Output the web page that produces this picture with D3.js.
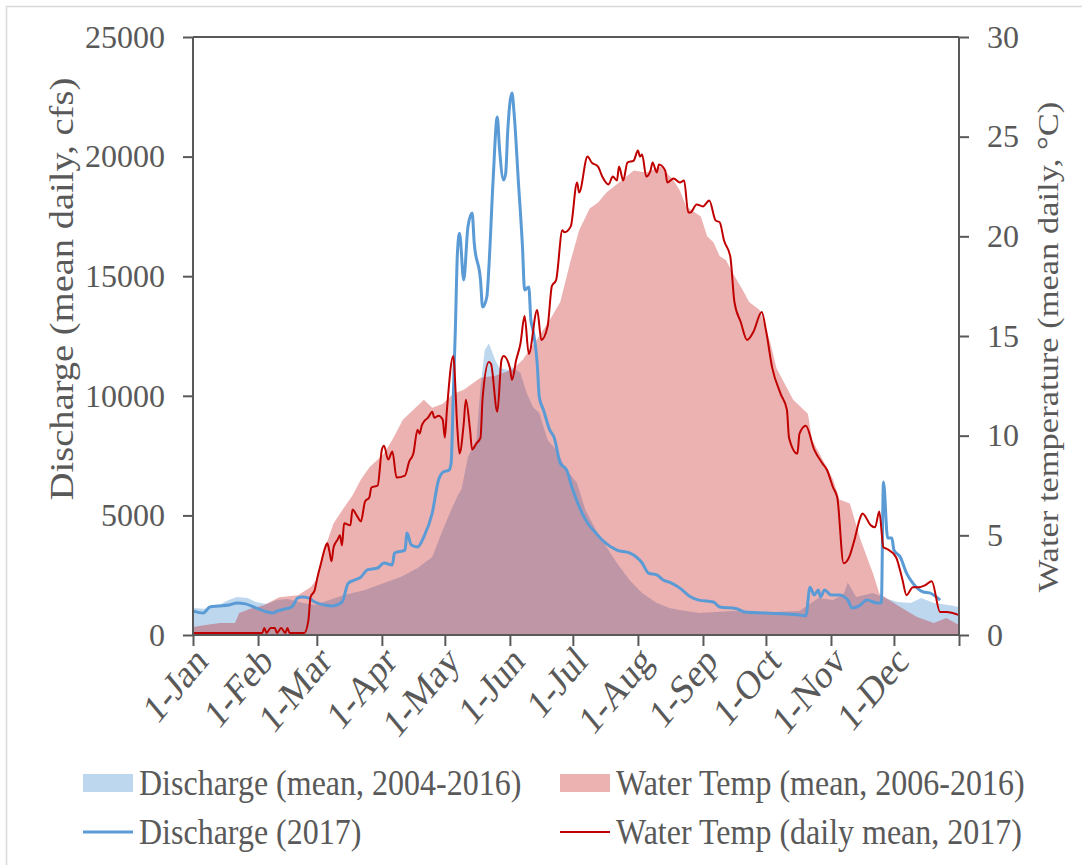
<!DOCTYPE html>
<html><head><meta charset="utf-8">
<script src="https://cdn.jsdelivr.net/npm/d3@7"></script>
<style>
html,body{margin:0;padding:0;background:#fff;}
svg text{font-family:"Liberation Serif","Times New Roman",serif;fill:#595959;}
</style></head>
<body>
<svg id="chart" width="1082" height="865"></svg>
<script>
// ---- data (day of year, value) ----
const monthTickDays = [0,31,59,90,120,151,181,212,243,273,304,334,365];
const monthLabels = ["1-Jan","1-Feb","1-Mar","1-Apr","1-May","1-Jun","1-Jul","1-Aug","1-Sep","1-Oct","1-Nov","1-Dec"];
const leftTicks = [0,5000,10000,15000,20000,25000];
const rightTicks = [0,5,10,15,20,25,30];

const dischargeMeanDays = [0,5,10,17,21,26,30,35,40,45,52,58,72,82,91,99,107,114,119,123,126,128,131,135,137,139,141,144,146,150,152,156,159,162,165,169,173,178,183,187,192,197,202,208,214,221,227,232,241,257,273,289,298,305,310,312,316,324,331,336,342,347,353,360,365];
const dischargeMeanValues = [1130,1100,1150,1460,1590,1550,1380,1300,1460,1500,1350,1250,1670,1880,2170,2420,2800,3260,4390,5230,5800,6100,7440,8150,10370,11900,12200,11500,11160,11080,11200,10950,10120,9530,9280,8150,7730,6900,6350,5230,4390,3680,3010,2300,1760,1340,1130,1050,920,1000,950,1000,1550,1460,1700,2200,1590,1760,1500,1380,1340,1550,1340,1250,1170];

const tempMeanDays = [0,6,13,20,22,27,34,41,50,56,59,63,67,72,76,80,84,91,95,100,105,110,114,119,124,129,133,137,144,152,157,165,170,175,180,184,189,193,197,203,210,216,223,229,232,235,242,245,248,251,254,257,262,265,270,275,278,286,293,295,302,305,308,313,318,324,327,331,337,345,353,359,365];
const tempMeanValues = [0.4,0.5,0.6,0.6,1.1,1.3,1.5,1.9,2.0,2.4,2.8,4.4,5.6,6.4,7.0,7.8,8.4,9.1,9.8,10.8,11.3,11.8,11.4,11.6,12.1,12.3,12.6,12.9,13.0,13.3,13.8,15.0,15.8,16.7,18.8,20.3,21.4,21.7,22.2,22.7,23.3,23.2,23.5,22.8,22.3,21.5,21.0,20.0,19.7,19.0,18.8,18.2,17.3,16.7,16.3,14.7,13.4,11.8,11.1,9.8,8.4,7.8,6.8,6.6,4.8,3.1,2.1,1.8,1.4,0.9,0.6,0.85,0.5];

const discharge2017Days = [0,5,8,12,17,21,25,30,34,38,40,44,47,50,52,55,58,63,66,71,74,77,80,83,88,91,95,96,101,102,104,107,110,114,117,119,122,123,124,125,126,127,129,131,133,134,137,138,140,141,143,145,146,148,149,150,152,153,155,157,158,160,161,162,164,165,167,170,172,175,178,181,188,192,195,202,208,214,217,221,224,228,232,237,241,248,251,259,263,273,289,292,294,296,298,299,301,304,308,312,314,318,321,326,328,329,331,333,334,337,340,343,348,351,356];
const discharge2017Values = [1000,920,1170,1210,1250,1340,1300,1130,1000,920,1000,1090,1170,1550,1590,1550,1380,1250,1210,1380,2170,2300,2420,2720,2800,3010,2930,3430,3550,4260,3760,3680,4100,5100,6480,6800,6900,7190,9950,12750,15970,16800,14840,17060,17640,16390,14840,13710,14130,15380,19020,21660,20400,19020,19310,21110,22660,21820,19020,16220,14420,14550,13170,12750,11370,9950,9410,8570,8280,7190,6900,6060,4680,4260,3970,3550,3430,3010,2590,2510,2300,2170,1960,1600,1460,1380,1170,1100,960,920,840,800,2000,1670,1880,1590,1880,1670,1670,1460,1130,1250,1460,1340,1340,6400,4050,4050,3550,3260,2590,2170,1800,1760,1460];

const temp2017Days = [0,33,34,35,37,39,40,42,44,45,46,53,55,56,58,59,61,63,64,65,66,67,69,70,71,72,75,76,78,80,82,84,85,88,90,91,93,95,97,101,103,105,107,108,109,110,112,114,115,117,119,120,121,124,126,127,129,130,132,133,135,137,138,141,142,145,147,148,151,152,154,156,158,160,164,166,169,171,173,176,177,180,183,184,188,190,193,195,198,200,202,203,205,207,210,212,213,214,216,218,219,221,222,225,226,229,232,234,236,237,240,243,246,249,251,253,256,258,261,264,267,271,273,276,280,283,284,288,289,292,296,300,302,305,307,310,313,315,318,319,323,325,327,329,331,335,338,340,343,346,349,352,356,359,365];
const temp2017Values = [0.1,0.1,0.35,0.1,0.35,0.35,0.1,0.35,0.1,0.35,0.1,0.1,0.75,1.9,2.25,2.75,3.6,4.4,4.6,4.2,3.7,4.4,4.8,5.0,4.5,5.6,5.5,6.3,6.0,5.7,6.7,6.9,7.4,7.5,9.3,9.5,8.8,9.2,7.9,8.0,8.7,9.1,10.3,10.1,10.5,10.7,10.9,11.2,10.9,11.0,10.8,9.9,11.3,14.0,10.3,9.1,10.6,11.8,10.3,9.3,9.6,9.9,11.9,13.7,13.6,11.2,13.8,14.0,13.4,12.8,13.8,14.6,16.0,14.1,16.3,14.8,15.5,17.5,17.8,20.3,20.2,20.5,22.7,22.2,24.0,23.7,23.5,23.0,22.6,23.0,22.8,23.5,22.8,23.7,23.8,24.3,24.0,24.1,23.0,23.3,23.7,23.2,23.6,23.3,22.7,22.9,22.7,22.8,21.2,21.2,21.6,21.5,21.8,20.8,20.7,19.8,19.0,16.7,15.7,14.8,15.2,16.2,15.3,13.4,12.1,11.3,9.9,9.1,10.1,10.5,9.3,8.6,8.3,7.4,6.9,3.6,4.0,4.7,5.9,6.1,5.5,5.4,6.2,4.4,4.3,3.9,2.8,2.0,2.4,2.4,2.5,2.7,1.15,1.15,1.0];

const legendItems = [
  {label:"Discharge (mean, 2004-2016)", kind:"area", color:"#5B9BD5", opacity:0.4, col:0, row:0},
  {label:"Water Temp (mean, 2006-2016)", kind:"area", color:"#C00000", opacity:0.3, col:1, row:0},
  {label:"Discharge (2017)", kind:"line", color:"#5B9BD5", width:3, col:0, row:1},
  {label:"Water Temp (daily mean, 2017)", kind:"line", color:"#C00000", width:2, col:1, row:1}
];

// ---- layout ----
const svg = d3.select("#chart");
const L = 193, R = 959, T = 37, B = 635;
const axisColor = "#595959";

const x = d3.scaleLinear().domain([0,365]).range([L,R]);
const yL = d3.scaleLinear().domain([0,25000]).range([B,T]);
const yR = d3.scaleLinear().domain([0,30]).range([B,T]);

const zip = (ds, vs) => ds.map((d,i)=>({d, v: vs[i]}));

// outer border
svg.append("rect").attr("x",6.5).attr("y",6.5).attr("width",1100).attr("height",900)
  .attr("fill","none").attr("stroke","#d9d9d9").attr("stroke-width",1.5);

// areas
svg.append("path").datum(zip(dischargeMeanDays, dischargeMeanValues))
  .attr("fill","#5B9BD5").attr("fill-opacity",0.4)
  .attr("d", d3.area().x(p=>x(p.d)).y0(yL(0)).y1(p=>yL(p.v)));
svg.append("path").datum(zip(tempMeanDays, tempMeanValues))
  .attr("fill","#C00000").attr("fill-opacity",0.3)
  .attr("d", d3.area().x(p=>x(p.d)).y0(yR(0)).y1(p=>yR(p.v)));

// lines
svg.append("path").datum(zip(discharge2017Days, discharge2017Values))
  .attr("fill","none").attr("stroke","#5B9BD5").attr("stroke-width",3).attr("stroke-linejoin","round")
  .attr("d", d3.line().curve(d3.curveMonotoneX).x(p=>x(p.d)).y(p=>yL(p.v)));
svg.append("path").datum(zip(temp2017Days, temp2017Values))
  .attr("fill","none").attr("stroke","#C00000").attr("stroke-width",2).attr("stroke-linejoin","round")
  .attr("d", d3.line().curve(d3.curveMonotoneX).x(p=>x(p.d)).y(p=>yR(p.v)));

// axes
const gL = svg.append("g").attr("transform",`translate(${L},0)`)
  .call(d3.axisLeft(yL).tickValues(leftTicks).tickSize(10).tickPadding(18).tickFormat(d3.format("d")));
const gR = svg.append("g").attr("transform",`translate(${R},0)`)
  .call(d3.axisRight(yR).tickValues(rightTicks).tickSize(10).tickPadding(18).tickFormat(d3.format("d")));
const gB = svg.append("g").attr("transform",`translate(0,${B})`)
  .call(d3.axisBottom(x).tickValues(monthTickDays).tickSize(11).tickFormat(""));
[gL,gR,gB].forEach(g=>{
  g.select(".domain").attr("stroke",axisColor).attr("stroke-width",2);
  g.selectAll(".tick line").attr("stroke",axisColor).attr("stroke-width",2);
  g.selectAll(".tick text").attr("fill",axisColor).style("font-size","32px")
    .style("font-family","'Liberation Serif','Times New Roman',serif");
});
gL.select(".domain").attr("d",`M0,${T}V${B}`);
gR.select(".domain").attr("d",`M0,${T}V${B}`);
gB.select(".domain").attr("d",`M${L},0H${R}`);
// top border line
svg.append("line").attr("x1",L).attr("x2",R).attr("y1",T).attr("y2",T)
  .attr("stroke",axisColor).attr("stroke-width",2);

// x tick labels
svg.append("g").selectAll("text").data(monthLabels).join("text")
  .attr("transform",(d,i)=>`translate(${x(monthTickDays[i])+8},${B+18}) scale(1,1.2) rotate(-45)`)
  .attr("text-anchor","end").attr("dy","0.35em")
  .style("font-size","34px").text(d=>d);

// axis titles
svg.append("text").attr("transform",`translate(73,289) scale(1,1.15) rotate(-90)`)
  .attr("text-anchor","middle").style("font-size","33.5px").text("Discharge (mean daily, cfs)");
svg.append("text").attr("transform",`translate(1058,347) scale(1,1.15) rotate(-90)`)
  .attr("text-anchor","middle").style("font-size","30px").text("Water temperature (mean daily, °C)");

// legend
const colX = [83, 560], rowY = [783, 832];
const lg = svg.append("g");
legendItems.forEach(it=>{
  const gx = colX[it.col], gy = rowY[it.row];
  if(it.kind==="area"){
    lg.append("rect").attr("x",gx).attr("y",gy-9).attr("width",50).attr("height",18)
      .attr("fill",it.color).attr("fill-opacity",it.opacity);
  } else {
    lg.append("line").attr("x1",gx).attr("x2",gx+50).attr("y1",gy).attr("y2",gy)
      .attr("stroke",it.color).attr("stroke-width",it.width);
  }
  lg.append("text").attr("transform",`translate(${gx+56},${gy}) scale(1,1.12)`)
    .attr("dy","0.33em").style("font-size","32px").text(it.label);
});
</script>
</body></html>
